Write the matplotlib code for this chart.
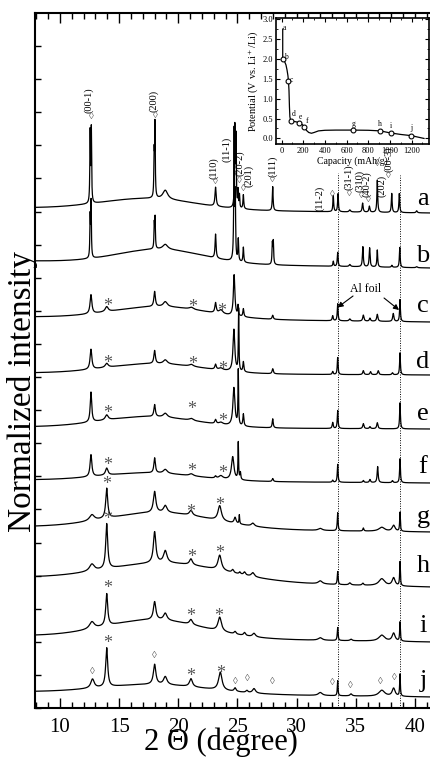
import numpy as np
import matplotlib.pyplot as plt
from matplotlib.ticker import MultipleLocator

plt.rcParams['font.family'] = ['Liberation Serif', 'DejaVu Serif']
plt.rcParams['mathtext.fontset'] = 'stix'

# XRD patterns a-j, stacked. Each one: sloping baseline (level at 7.9 and 41.4 deg),
# one broad amorphous hump and a list of Bragg peaks (position, height, FWHM)
names = list('abcdefghij')
base_start = [500, 447, 391, 335, 281, 228, 181, 130, 72, 16]
base_end = [495, 440, 386, 333, 279, 225, 176, 121, 66, 11]
hump_pos = [17.5, 18.5, 18.5, 18.0, 17.5, 17.5, 18.5, 19.0, 18.0, 18.0]
hump_amp = [11, 14, 12, 10, 11, 8, 16, 18, 18, 9]
hump_sig = [4.0, 3.6, 4.0, 4.0, 4.0, 4.0, 4.5, 5.0, 4.2, 4.5]

peaks_a = [(12.55, 70, 0.06), (12.65, 73, 0.06), (17.96, 42, 0.06), (18.03, 72, 0.06),
           (18.9, 9, 0.5), (23.15, 19, 0.12), (24.78, 80, 0.07), (24.88, 68, 0.06),
           (25.05, 17, 0.06), (25.17, 13, 0.06), (25.5, 14, 0.08), (27.98, 24, 0.08),
           (33.1, 16, 0.08), (33.5, 18, 0.08), (34.5, 2, 0.15), (35.58, 9, 0.1),
           (36.15, 6, 0.1), (36.82, 32, 0.08), (38.04, 19, 0.08), (38.68, 19, 0.08),
           (40.15, 2, 0.12)]
peaks_b = [(12.55, 40, 0.06), (12.63, 55, 0.06), (17.97, 24, 0.06), (18.04, 30, 0.06),
           (18.9, 5, 0.5), (23.15, 24, 0.1), (24.72, 130, 0.07), (24.82, 60, 0.06),
           (25.07, 22, 0.07), (25.5, 15, 0.08), (27.95, 20, 0.07), (28.03, 22, 0.07),
           (33.1, 5, 0.08), (33.47, 14, 0.08), (34.5, 2, 0.15), (35.6, 20, 0.09),
           (36.17, 19, 0.09), (36.82, 17, 0.08), (38.05, 2, 0.1), (38.72, 20, 0.08),
           (40.15, 1, 0.15)]
peaks_c = [(12.62, 19, 0.18), (13.95, 5, 0.3), (18.0, 15, 0.15), (18.9, 5, 0.4),
           (21.1, 2, 0.4), (23.15, 10, 0.14), (23.6, 4, 0.4), (24.72, 41, 0.15),
           (25.05, 10, 0.07), (25.5, 8, 0.1), (27.98, 4, 0.12), (33.05, 5, 0.1),
           (33.47, 17, 0.08), (34.5, 2, 0.15), (35.64, 6, 0.12), (36.2, 3, 0.12),
           (36.82, 7, 0.12), (38.17, 8, 0.12), (38.74, 22, 0.08)]
peaks_d = [(12.62, 20, 0.18), (13.95, 4, 0.3), (18.0, 13, 0.15), (18.9, 4, 0.4),
           (21.1, 2, 0.4), (23.15, 5, 0.14), (23.6, 2, 0.4), (24.7, 42, 0.18),
           (25.1, 62, 0.06), (25.5, 10, 0.1), (27.98, 5, 0.12), (33.05, 3, 0.1),
           (33.47, 17, 0.08), (35.64, 4, 0.12), (36.25, 3, 0.12), (36.9, 4, 0.12),
           (38.1, 2, 0.12), (38.74, 22, 0.08)]
peaks_e = [(12.62, 30, 0.15), (13.95, 5, 0.3), (18.0, 12, 0.15), (18.9, 4, 0.4),
           (21.1, 2, 0.4), (23.15, 4, 0.15), (23.6, 2, 0.4), (24.7, 38, 0.2),
           (25.07, 55, 0.06), (25.5, 12, 0.1), (27.98, 9, 0.1), (33.05, 6, 0.1),
           (33.47, 18, 0.08), (35.64, 5, 0.12), (36.2, 2, 0.12), (36.82, 6, 0.12),
           (38.74, 26, 0.08)]
peaks_f = [(12.62, 22, 0.18), (13.95, 7, 0.25), (18.0, 15, 0.15), (18.9, 4, 0.4),
           (21.1, 2, 0.4), (23.15, 2, 0.15), (23.6, 3, 0.4), (24.6, 23, 0.25),
           (25.07, 37, 0.06), (25.25, 7, 0.08), (27.98, 3, 0.12), (33.05, 2, 0.1),
           (33.47, 18, 0.08), (35.64, 2, 0.12), (36.2, 3, 0.12), (36.85, 16, 0.1),
           (38.1, 2, 0.12), (38.74, 24, 0.08)]
peaks_g = [(12.7, 6, 0.5), (13.95, 30, 0.2), (18.0, 21, 0.25), (18.9, 7, 0.35),
           (21.07, 5, 0.3), (23.5, 15, 0.35), (24.8, 6, 0.2), (25.16, 9, 0.06),
           (26.3, 3, 0.3), (32.0, 2, 0.4), (33.47, 18, 0.08), (35.64, 3, 0.1),
           (37.2, 4, 0.6), (38.2, 6, 0.3), (38.74, 19, 0.07)]
peaks_h = [(12.7, 7, 0.5), (13.95, 45, 0.2), (18.0, 31, 0.25), (18.9, 12, 0.35),
           (21.07, 6, 0.3), (23.5, 15, 0.35), (24.6, 3, 0.2), (25.2, 2, 0.15),
           (25.6, 3, 0.2), (26.3, 4, 0.3), (32.0, 3, 0.4), (33.47, 13, 0.08),
           (34.5, 2, 0.2), (35.6, 2, 0.15), (37.2, 7, 0.6), (38.2, 8, 0.3),
           (38.74, 24, 0.07)]
peaks_i = [(12.7, 7, 0.5), (13.95, 32, 0.2), (18.0, 18, 0.25), (18.9, 7, 0.35),
           (21.07, 5, 0.3), (23.5, 14, 0.35), (24.8, 2.5, 0.2), (25.6, 3, 0.2),
           (26.4, 3.5, 0.3), (32.0, 2.5, 0.4), (33.47, 13, 0.08), (34.6, 1.5, 0.2),
           (37.2, 6, 0.6), (38.2, 8, 0.3), (38.74, 19, 0.07)]
peaks_j = [(12.75, 9, 0.35), (13.95, 39, 0.2), (18.0, 20, 0.25), (18.9, 8, 0.35),
           (21.07, 8, 0.3), (23.55, 18, 0.35), (24.8, 3.5, 0.2), (25.8, 2, 0.2),
           (26.4, 4.5, 0.3), (32.0, 3, 0.4), (33.47, 15, 0.07), (34.6, 2, 0.2),
           (37.2, 6, 0.6), (38.2, 8, 0.3), (38.74, 22, 0.07)]
all_peaks = [peaks_a, peaks_b, peaks_c, peaks_d, peaks_e,
             peaks_f, peaks_g, peaks_h, peaks_i, peaks_j]

# Al current collector reflections
al_pos = [33.47, 38.74]

# first discharge curve (inset)
cap_curve = [10, 10, 25, 40, 50, 58, 63, 68, 72, 76, 82, 100, 130, 160, 190, 210, 230,
             250, 275, 300, 340, 400, 500, 655, 800, 910, 1000, 1100, 1197, 1314]
pot_curve = [2.75, 2.0, 1.95, 1.85, 1.72, 1.58, 1.45, 1.2, 0.8, 0.55, 0.45, 0.43, 0.42,
             0.40, 0.35, 0.29, 0.20, 0.15, 0.13, 0.15, 0.19, 0.205, 0.21, 0.21, 0.205,
             0.19, 0.14, 0.10, 0.07, 0.0]
cap_pts = [10, 63, 83, 160, 209, 655, 910, 1009, 1197]
pot_pts = [2.0, 1.45, 0.43, 0.40, 0.29, 0.21, 0.19, 0.14, 0.07]


def pattern(x, i, peaks):
    y = base_start[i] + (base_end[i] - base_start[i]) * (x - 7.9) / (41.4 - 7.9)
    y = y + hump_amp[i] * np.exp(-0.5 * ((x - hump_pos[i]) / hump_sig[i]) ** 2)
    for pos, h, w in peaks:
        y = y + h / (1 + ((x - pos) / (w / 2)) ** 2)
    return y


fig = plt.figure(figsize=(4.31, 7.58), dpi=100)
ax = fig.add_axes([35 / 431, 50 / 758, 405 / 431, 695 / 758])

tt = np.arange(7.8, 42.2, 0.004)
for i, pk in enumerate(all_peaks):
    ax.plot(tt, pattern(tt, i, pk), color='k', lw=0.9)

ax.vlines(al_pos, 0, [535, 533], colors='k', linestyles=(0, (1, 1.5)), lw=0.7)

# sample letters
label_y = [503, 446, 396, 340, 288, 235, 185, 136, 76, 21]
for n, ly in zip(names, label_y):
    ax.text(40.68, ly, n, ha='center', va='baseline', fontsize=19)

# indexing of pattern a
hkl = [('(00-1)', 12.45, 595, 12.68, 591.3), ('(200)', 17.89, 596, 18.06, 593),
       ('(110)', 22.96, 529, 23.1, 526.3), ('(11-1)', 24.09, 546, None, None),
       ('(20-2)', 25.16, 532, 25.16, 527.5), ('(201)', 25.92, 521, 25.49, 519.7),
       ('(111)', 27.98, 531, 27.98, 528.7), ('(11-2)', 31.98, 497, 33.02, 513.7),
       ('(31-1)', 34.43, 518, 34.43, 514.7), ('(310)', 35.36, 516, 35.5, 512.3),
       ('(40-2)', 35.93, 511.3, 36.06, 509), ('(202)', 37.19, 511, 36.86, 544.7),
       ('(00-3)', 37.75, 536, 37.75, 533)]
for txt, tx, ty, dx, dy in hkl:
    ax.text(tx, ty, txt, rotation=90, ha='center', va='bottom', fontsize=7.5)
    if dx is not None:
        ax.text(dx, dy, '\u25ca', ha='center', va='center', fontsize=7, color='#666666')

# asterisks over the new phase reflections
stars = [(14.0, 405.3), (21.18, 404), (23.67, 400.7),
         (14.0, 348.7), (21.18, 347.3), (23.75, 342.3),
         (14.0, 298.7), (21.13, 302), (23.75, 290.7),
         (14.0, 247), (21.13, 240.3), (23.75, 238.7),
         (13.95, 227.3), (21.07, 199.7), (23.47, 206.3),
         (14.0, 192), (21.13, 154.7), (23.47, 158),
         (14.0, 123.7), (21.07, 95.3), (23.45, 95.3),
         (14.03, 68.7), (21.07, 35.3), (23.61, 38)]
for sx, sy in stars:
    ax.text(sx, sy - 4, '*', ha='center', va='center', fontsize=13, color='#555555')

# diamonds marking the remaining reflections in pattern j
dia = [(12.78, 36.3), (17.95, 52), (24.86, 27), (25.8, 29.7), (27.98, 27),
       (33.04, 25.3), (34.52, 23), (37.11, 27), (38.24, 30.7)]
for dx, dy in dia:
    ax.text(dx, dy, '\u25ca', ha='center', va='center', fontsize=7, color='#666666')

ax.text(35.87, 419, 'Al foil', ha='center', va='center', fontsize=8.5)
arw = dict(arrowstyle='-|>', color='k', lw=0.8, mutation_scale=8, shrinkA=0, shrinkB=0)
ax.annotate('', xy=(33.46, 400.5), xytext=(34.77, 412), arrowprops=arw)
ax.annotate('', xy=(38.66, 398), xytext=(37.39, 410), arrowprops=arw)

ax.set_xlim(7.89, 42.12)
ax.set_ylim(0, 695)
ax.xaxis.set_major_locator(MultipleLocator(5))
ax.xaxis.set_minor_locator(MultipleLocator(1))
ax.yaxis.set_major_locator(MultipleLocator(33.1))
ax.tick_params(axis='x', which='both', direction='in', top=True, labelsize=15, pad=7)
ax.tick_params(axis='x', which='major', length=7, width=1)
ax.tick_params(axis='x', which='minor', length=4, width=1)
ax.tick_params(axis='y', which='both', direction='in', length=4, width=1, labelleft=False)
for s in ax.spines.values():
    s.set_linewidth(1.5)

fig.text(221 / 431, 1 - 750 / 758, '2 \u0398 (degree)', ha='center', va='baseline', fontsize=22)
fig.text(23 / 431, 1 - 392 / 758, 'Normalized intensity', rotation=90,
         ha='center', va='center', fontsize=24)

# inset: discharge profile
ins = fig.add_axes([276 / 431, 1 - 144 / 758, 153 / 431, 126 / 758])
ins.set_facecolor('white')
ins.plot(cap_curve, pot_curve, 'k-', lw=0.9)
ins.plot(cap_pts, pot_pts, 'o', mfc='white', mec='k', ms=3.5, mew=0.8)
ins_lab = [('a', 22, 2.78), ('b', 42, 2.04), ('c', 92, 1.47), ('d', 107, 0.61),
           ('e', 169, 0.53), ('f', 231, 0.44), ('g', 662, 0.36), ('h', 910, 0.36),
           ('i', 1009, 0.31), ('j', 1200, 0.25)]
for t, cx, cy in ins_lab:
    ins.text(cx, cy, t, ha='center', va='center', fontsize=5.5)
ins.set_xlim(-52, 1360)
ins.set_ylim(-0.14, 3.03)
ins.xaxis.set_major_locator(MultipleLocator(200))
ins.xaxis.set_minor_locator(MultipleLocator(100))
ins.yaxis.set_major_locator(MultipleLocator(0.5))
ins.yaxis.set_minor_locator(MultipleLocator(0.25))
ins.tick_params(which='both', direction='in', top=True, right=True, labelsize=6, pad=2)
ins.tick_params(which='major', length=3)
ins.tick_params(which='minor', length=1.5)
ins.set_xlabel('Capacity (mAh/g)', fontsize=7, labelpad=1)
ins.set_ylabel('Potential (V vs. Li$^+$/Li)', fontsize=7.5, labelpad=2)
for s in ins.spines.values():
    s.set_linewidth(1.2)

fig.savefig('out.png', dpi=100)
